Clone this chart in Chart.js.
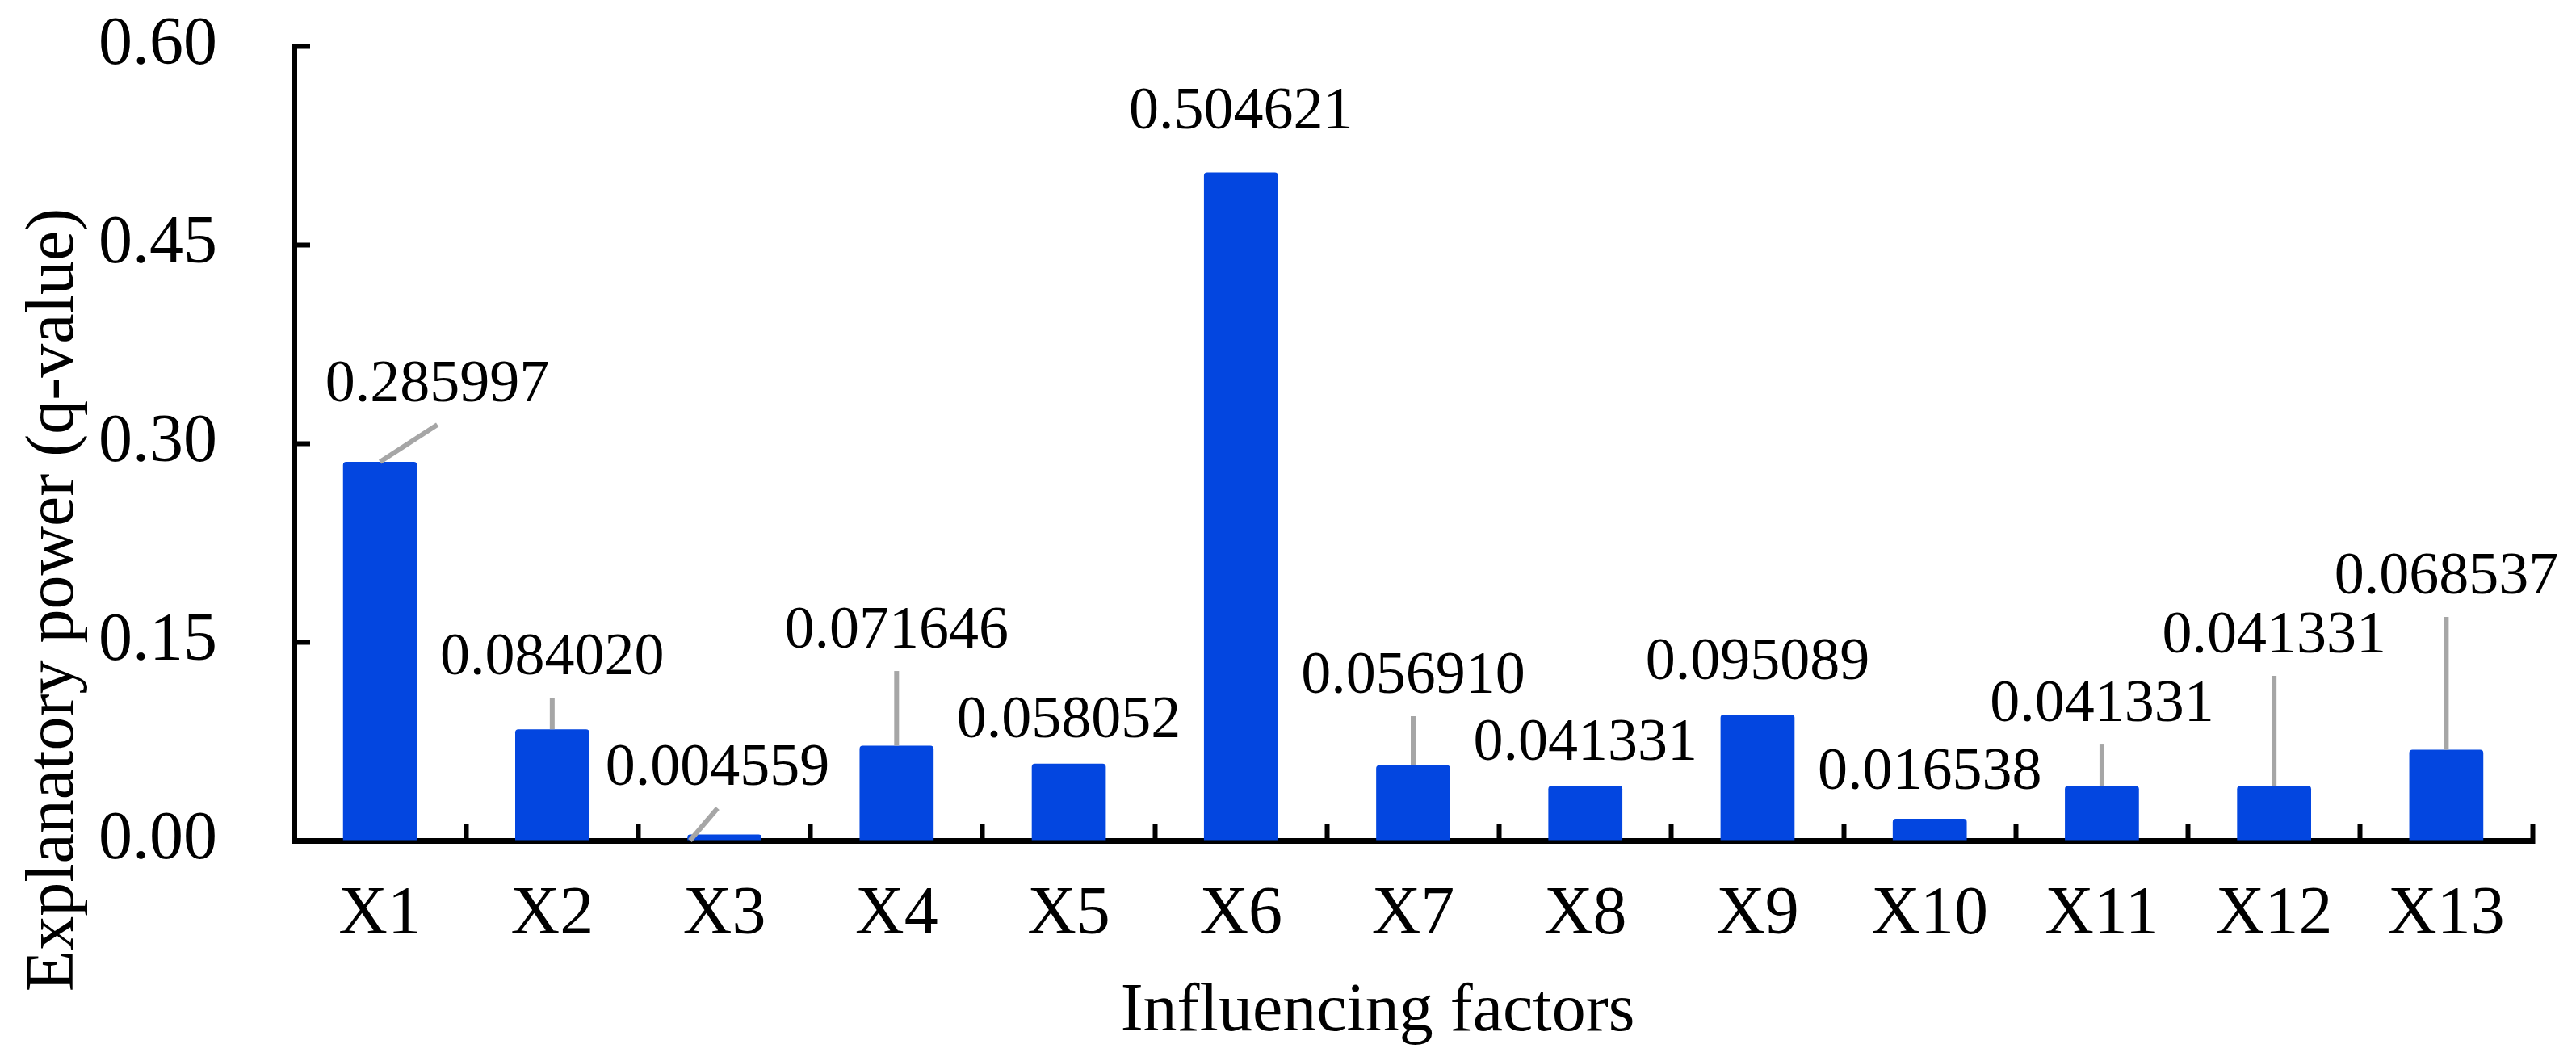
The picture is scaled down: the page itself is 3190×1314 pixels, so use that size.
<!DOCTYPE html>
<html>
<head>
<meta charset="utf-8">
<script src="https://cdn.jsdelivr.net/npm/chart.js@4.4.1/dist/chart.umd.min.js"></script>
<style>
  html, body { margin: 0; padding: 0; background: #fff; }
  #wrap { width: 3190px; height: 1314px; position: relative; }
</style>
</head>
<body>
<div id="wrap"><canvas id="chart"></canvas></div>
<script>
// categories and q-values
const factors = ["X1", "X2", "X3", "X4", "X5", "X6", "X7", "X8", "X9", "X10", "X11", "X12", "X13"];
const qValues = [0.285997, 0.084020, 0.004559, 0.071646, 0.058052, 0.504621, 0.056910,
                 0.041331, 0.095089, 0.016538, 0.041331, 0.041331, 0.068537];
const yTicks = [0, 0.15, 0.30, 0.45, 0.60];

// where the (hand-moved) data labels sit, in axis units
const labelBaseline = [0.3317, 0.1256, 0.0421, 0.1457, 0.0780, 0.5378, 0.1116,
                       0.0610, 0.1220, 0.0390, 0.0902, 0.1421, 0.1866];
const labelShift = [0.333, 0, -0.04, 0, 0, 0, 0, 0, 0, 0, 0, 0, 0]; // in category widths
// leader line start: [shift in category widths, value] or null for none
const leaderStart = [[0, 0.285997], [0, 0.084020], [-0.2, 0], [0, 0.071646], null, null,
                     [0, 0.056910], null, null, null, [0, 0.041331], [0, 0.041331], [0, 0.068537]];

const serif = "'Liberation Serif', 'Times New Roman', serif";

// draws the data labels + grey leader lines
const valueLabels = {
  id: "valueLabels",
  afterDatasetsDraw(chart) {
    const { ctx, scales: { x, y } } = chart;
    const catW = x.getPixelForValue(1) - x.getPixelForValue(0);
    ctx.save();
    qValues.forEach((v, i) => {
      const cx = x.getPixelForValue(i);
      const lx = cx + labelShift[i] * catW;
      const ly = y.getPixelForValue(labelBaseline[i]);
      if (leaderStart[i]) {
        ctx.strokeStyle = "#A6A6A6";
        ctx.lineWidth = 6;
        ctx.beginPath();
        ctx.moveTo(cx + leaderStart[i][0] * catW, y.getPixelForValue(leaderStart[i][1]));
        ctx.lineTo(lx, ly + 29);
        ctx.stroke();
      }
      ctx.fillStyle = "#000";
      ctx.font = "74px " + serif;
      ctx.textAlign = "center";
      ctx.textBaseline = "alphabetic";
      ctx.fillText(v.toFixed(6), lx, ly);
    });
    ctx.restore();
  }
};

// axis titles placed like in the original figure
const axisTitles = {
  id: "axisTitles",
  afterDraw(chart) {
    const { ctx } = chart;
    ctx.save();
    ctx.fillStyle = "#000";
    ctx.font = "84px " + serif;
    ctx.textAlign = "center";
    ctx.textBaseline = "alphabetic";
    ctx.fillText("Influencing factors", 1706, 1276);
    ctx.translate(90, 743);
    ctx.rotate(-Math.PI / 2);
    ctx.fillText("Explanatory power (q-value)", 0, 0);
    ctx.restore();
  }
};

new Chart(document.getElementById("chart"), {
  type: "bar",
  data: {
    labels: factors,
    datasets: [
      {
        data: qValues,
        backgroundColor: "#0346E0",
        borderRadius: 4,
        categoryPercentage: 1,
        barPercentage: 0.43,
      },
    ],
  },
  options: {
    responsive: true,
    maintainAspectRatio: false,
    devicePixelRatio: 1,
    animation: false,
    layout: { padding: { top: 57, right: 54, left: 0, bottom: 0 } },
    plugins: {
      legend: { display: false },
      tooltip: { enabled: false },
    },
    scales: {
      x: {
        afterFit: (scale) => {
          scale.height = 273;
          scale.paddingLeft = 0;
          scale.paddingRight = 0;
        },
        grid: {
          offset: true,
          drawOnChartArea: false,
          drawTicks: true,
          tickLength: -21,
          tickColor: "#000",
          tickWidth: 6,
        },
        border: { display: true, color: "#000", width: 7 },
        ticks: {
          color: "#000",
          font: { family: serif, size: 84 },
          padding: 64,
          maxRotation: 0,
          autoSkip: false,
        },
      },
      y: {
        min: 0,
        max: 0.6,
        afterFit: (scale) => {
          scale.width = 364;
          scale.paddingTop = 0;
          scale.paddingBottom = 0;
        },
        afterBuildTicks: (scale) => { scale.ticks = yTicks.map((v) => ({ value: v })); },
        grid: {
          drawOnChartArea: false,
          drawTicks: true,
          tickLength: -20,
          tickColor: "#000",
          tickWidth: 6,
        },
        border: { display: true, color: "#000", width: 7 },
        ticks: {
          color: "#000",
          font: { family: serif, size: 84 },
          padding: 115,
          callback: (v) => Number(v).toFixed(2),
        },
      },
    },
  },
  plugins: [valueLabels, axisTitles],
});
</script>
</body>
</html>
